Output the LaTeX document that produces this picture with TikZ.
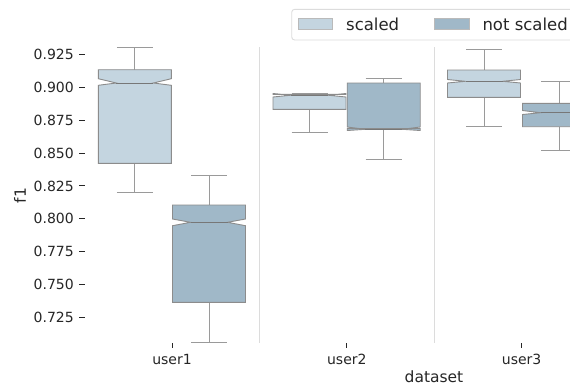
\documentclass[tikz,border=0pt]{standalone}
\usepackage{fontspec}
\setmainfont{DejaVu Sans}
\definecolor{txt}{HTML}{262626}
\definecolor{scal}{HTML}{C4D5E0}
\definecolor{nscal}{HTML}{A0B8C8}
\definecolor{edgec}{HTML}{8C8C8C}
\definecolor{whc}{HTML}{9A9A9A}
\definecolor{sepc}{HTML}{DCDCDC}
\tikzset{
  whisk/.style={draw=whc, line width=0.9pt},
  boxedge/.style={draw=edgec, line width=0.9pt, line join=miter},
  medline/.style={draw=edgec!85!black, line width=0.9pt},
  sepline/.style={draw=sepc, line width=1.4pt},
  ticklab/.style={text=txt, font=\fontsize{14}{16}\selectfont, inner sep=0pt},
  axlab/.style={text=txt, font=\fontsize{15.5}{18}\selectfont, inner sep=0pt},
  leglab/.style={text=txt, font=\fontsize{16.5}{19}\selectfont, inner sep=0pt, anchor=west},
  tickmark/.style={draw=txt, line width=0.9pt}
}
% #1 cx, #2 top whisker, #3 q3, #4 notch hi, #5 median, #6 notch lo, #7 q1, #8 low whisker, #9 colour
\def\notchbox#1#2#3#4#5#6#7#8#9{%
  \draw[whisk] (#1,#2) -- (#1,#3);
  \draw[whisk] (#1-18,#2) -- (#1+18,#2);
  \draw[whisk] (#1,#7) -- (#1,#8);
  \draw[whisk] (#1-18,#8) -- (#1+18,#8);
  \filldraw[boxedge, fill=#9] (#1-36.5,#7) -- (#1+36.5,#7) -- (#1+36.5,#6) -- (#1+18.5,#5)
     -- (#1+36.5,#4) -- (#1+36.5,#3) -- (#1-36.5,#3) -- (#1-36.5,#4) -- (#1-18.5,#5)
     -- (#1-36.5,#6) -- cycle;
  \draw[medline] (#1-18.5,#5) -- (#1+18.5,#5);
}
\begin{document}
\begin{tikzpicture}[x=1pt,y=-1pt]
\useasboundingbox (0,0) rectangle (570,386);
\fill[white] (0,0) rectangle (570,386);
% separators
\draw[sepline] (259.4,47) -- (259.4,342.7);
\draw[sepline] (434.2,47) -- (434.2,342.7);
% boxes
\notchbox{134.8}{47.3}{69.7}{78.7}{83}{85.3}{163.3}{192.7}{scal}
\notchbox{209}{175}{205}{219}{222.3}{225.7}{302.3}{342.3}{nscal}
\notchbox{309.5}{93.5}{94.3}{93.5}{95.2}{97}{109.3}{132}{scal}
\notchbox{383.7}{78.3}{83}{127}{129.3}{130.5}{128.5}{159}{nscal}
\notchbox{484}{49}{70}{79.5}{81.3}{83}{97.3}{126}{scal}
\notchbox{559}{81.7}{103.3}{110.5}{112.7}{114.5}{126.7}{150}{nscal}
% y ticks
\foreach \v/\k in {0.925/0,0.900/1,0.875/2,0.850/3,0.825/4,0.800/5,0.775/6,0.750/7,0.725/8}{
  \node[ticklab, anchor=east] (yt\k) at (74,54.3+\k*32.9) {\v};
  \draw[tickmark] (79,54.3+\k*32.9) -- (85,54.3+\k*32.9);
}
% x ticks
\foreach \n/\x in {user1/172,user2/346.8,user3/521.6}{
  \draw[tickmark] (\x,343.3) -- (\x,347.7);
  \node[ticklab] (xt\n) at (\x,359.5) {\n};
}
\node[axlab] (xlab) at (434,377) {dataset};
\node[axlab, rotate=90] (ylab) at (20,195.5) {f1};
% legend
\draw[sepc, line width=0.9pt, fill=white, rounded corners=3pt] (291.7,9.3) rectangle (600,40);
\filldraw[draw=edgec!60, line width=0.6pt, fill=scal] (298.3,18.3) rectangle (332.3,29.3);
\node[leglab] (l1) at (346,24) {scaled};
\filldraw[draw=edgec!60, line width=0.6pt, fill=nscal] (434.3,18.3) rectangle (469,29.3);
\node[leglab] (l2) at (482.3,24) {not scaled};
\end{tikzpicture}
\end{document}
